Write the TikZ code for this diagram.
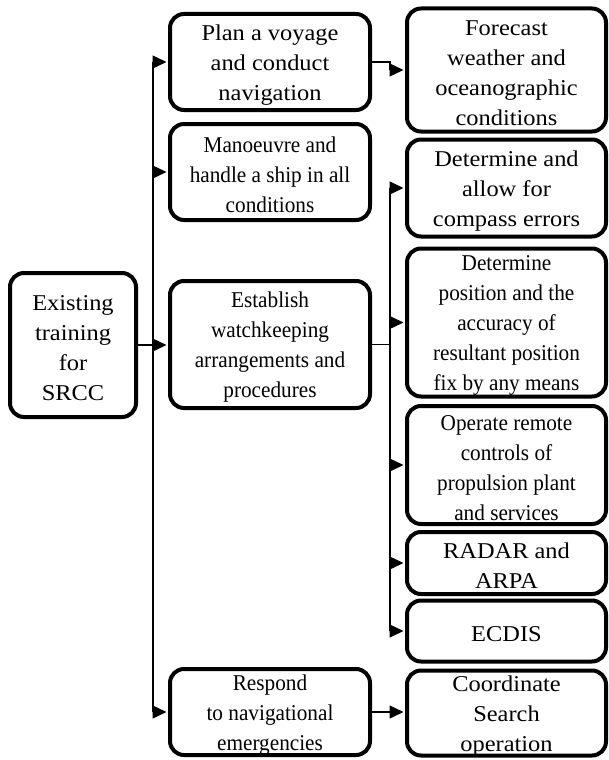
\documentclass[tikz,border=0pt]{standalone}
\usepackage{fontspec}
\setmainfont[FakeStretch=1.08]{Liberation Serif}
\newfontfamily\condf[FakeStretch=0.94]{Liberation Serif}
\usetikzlibrary{arrows.meta}
\tikzset{
  box/.style={draw, line width=4pt, rounded corners=14pt, inner sep=0pt},
  txt/.style={align=center, inner sep=0pt, yshift=-3pt, font=\fontsize{22.6}{30}\selectfont},
  ctxt/.style={txt, font=\condf\fontsize{22.6}{30}\selectfont},
  conn/.style={line width=1.4pt},
  arr/.style={conn, -{Triangle[length=14pt,width=13pt]}, shorten >=1.5pt}
}
\begin{document}
\begin{tikzpicture}[x=1pt,y=-1pt]
\useasboundingbox (0,0) rectangle (609,760);
\node[box, minimum width=126, minimum height=144] (ex) at (73,345) {};
\node[txt] (ext) at (ex) {Existing\\training\\for\\SRCC};
\node[box, minimum width=200, minimum height=96] (plan) at (270,62) {};
\node[txt] (plant) at (plan) {Plan a voyage\\and conduct\\navigation};
\node[box, minimum width=200, minimum height=96] (man) at (270,172) {};
\node[ctxt] (mant) at (man) {Manoeuvre and\\handle a ship in all\\conditions};
\node[box, minimum width=200, minimum height=127] (est) at (270,344.5) {};
\node[ctxt] (estt) at (est) {Establish\\watchkeeping\\arrangements and\\procedures};
\node[box, minimum width=200, minimum height=86] (resp) at (270,712) {};
\node[ctxt] (respt) at (resp) {Respond\\to navigational\\emergencies};
\node[box, minimum width=199, minimum height=123] (fore) at (506.5,70) {};
\node[txt] (foret) at (fore) {Forecast\\weather and\\oceanographic\\conditions};
\node[box, minimum width=199, minimum height=97] (det) at (506.5,188) {};
\node[txt] (dett) at (det) {Determine and\\allow for\\compass errors};
\node[box, minimum width=199, minimum height=148] (pos) at (506.5,322.5) {};
\node[ctxt] (post) at (pos) {Determine\\position and the\\accuracy of\\resultant position\\fix by any means};
\node[box, minimum width=199, minimum height=118] (op) at (506.5,465) {};
\node[ctxt] (opt) at (op) {Operate remote\\controls of\\propulsion plant\\and services};
\node[box, minimum width=199, minimum height=62] (rad) at (506.5,563) {};
\node[txt] (radt) at (rad) {RADAR and\\ARPA};
\node[box, minimum width=199, minimum height=61] (ecd) at (506.5,631) {};
\node[txt] (ecdt) at (ecd) {ECDIS};
\node[box, minimum width=199, minimum height=85] (coord) at (506.5,713) {};
\node[txt] (coordt) at (coord) {Coordinate\\Search\\operation};
\coordinate (t) at (153,0);
\coordinate (s) at (390,0);
% main trunk
\draw[arr] (ex.east) -- (ex.east -| est.west);
\draw[arr] (t |- est.west) |- (plan.west);
\draw[arr] (t |- est.west) |- (man.west);
\draw[arr] (t |- est.west) |- (resp.west);
% plan -> forecast
\draw[arr] (plan.east) -- (s |- plan.east) -- (s |- fore.west) -- (fore.west);
% establish branch
\draw[conn] (est.east) -- (s |- est.east);
\draw[arr] (s |- est.east) |- (det.west);
\draw[arr] (s |- est.east) |- (pos.west);
\draw[arr] (s |- est.east) |- (op.west);
\draw[arr] (s |- est.east) |- (rad.west);
\draw[arr] (s |- est.east) |- (ecd.west);
% respond -> coordinate
\draw[arr] (resp.east) -- (resp.east -| coord.west);
\end{tikzpicture}
\end{document}
